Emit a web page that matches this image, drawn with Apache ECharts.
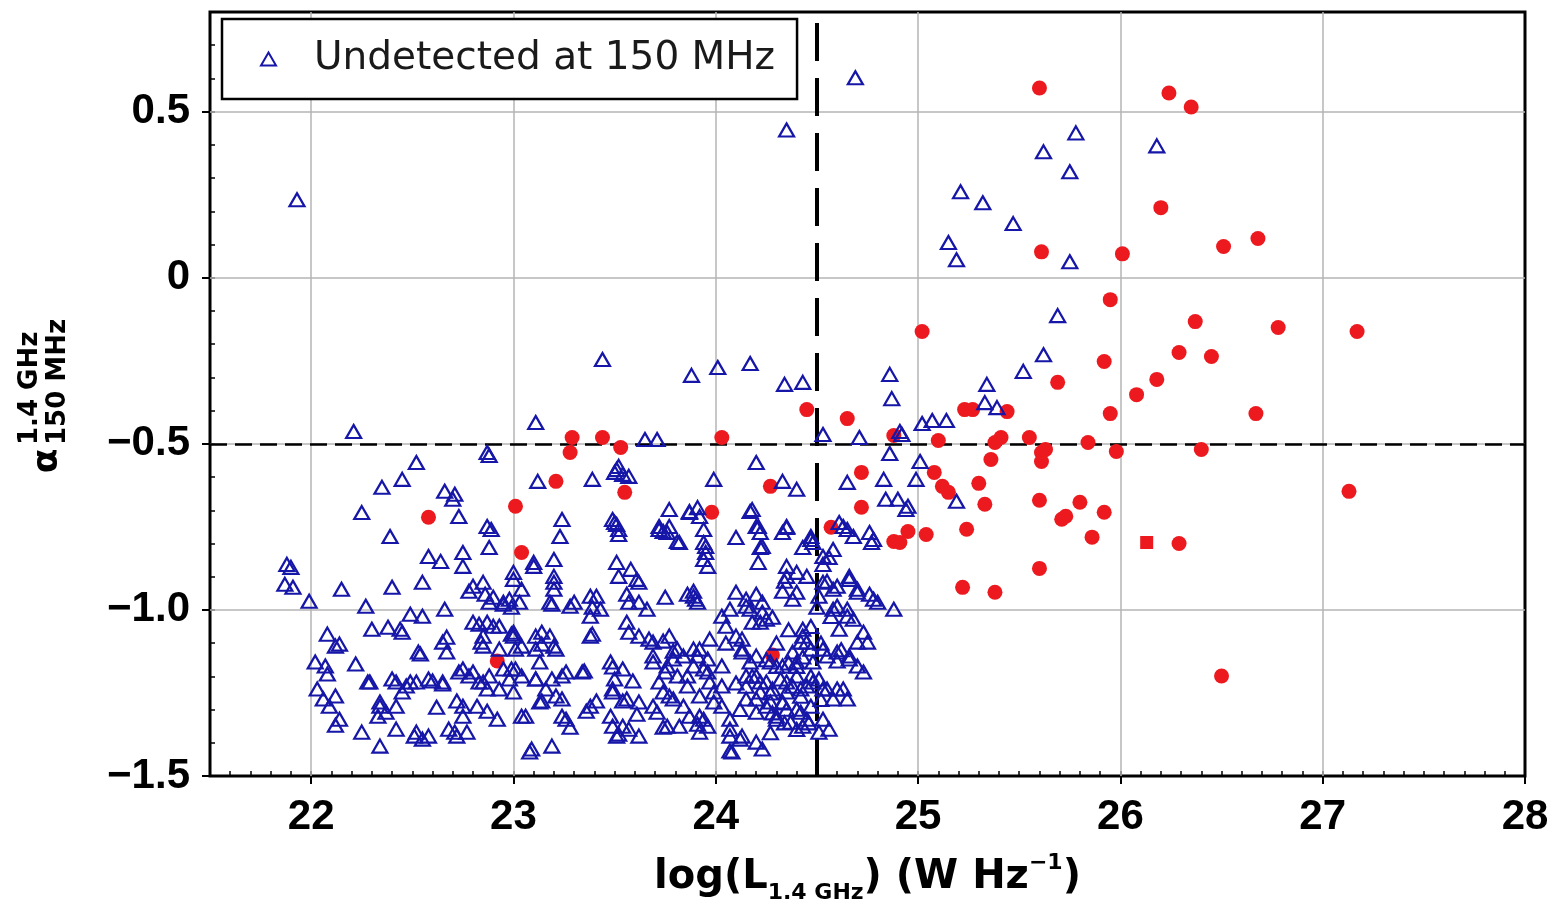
<!DOCTYPE html>
<html>
<head>
<meta charset="utf-8">
<script src="https://cdn.jsdelivr.net/npm/echarts@6/dist/echarts.min.js"></script>
<style>html,body{margin:0;padding:0;background:#fff;}#chart{width:1552px;height:909px;}</style>
</head>
<body>
<div id="chart"></div>
<script>
// ---- tick labels / reference lines ----
const xTicks = [22, 23, 24, 25, 26, 27, 28];
const yTicks = [-1.5, -1.0, -0.5, 0, 0.5];
const xGridVals = [22, 23, 24, 25, 26, 27];
const yGridVals = [-1.0, -0.5, 0, 0.5];
const lumCut = 24.5;
const alphaCut = -0.5;
const legendLabel = 'Undetected at 150 MHz';

// ---- detected (red) sources ----
const detected = [
  [25.60,0.571],[26.24,0.556],[26.35,0.514],[26.20,0.211],[26.51,0.094],[26.68,0.118],[25.61,0.078],[26.01,0.072],
  [25.95,-0.066],[25.02,-0.162],[26.37,-0.132],[26.78,-0.150],[27.17,-0.162],[26.29,-0.225],[26.45,-0.237],[26.18,-0.306],
  [25.92,-0.252],[25.69,-0.315],[26.08,-0.352],[25.95,-0.409],[26.67,-0.409],[24.45,-0.397],[24.65,-0.424],[25.23,-0.397],
  [25.27,-0.397],[25.44,-0.403],[25.10,-0.490],[25.41,-0.481],[25.38,-0.496],[25.36,-0.547],[25.55,-0.481],[25.61,-0.526],
  [25.61,-0.553],[25.63,-0.517],[25.84,-0.496],[25.98,-0.523],[26.40,-0.517],[25.08,-0.586],[25.12,-0.628],[25.15,-0.646],
  [25.30,-0.619],[25.33,-0.682],[25.60,-0.670],[25.80,-0.676],[25.92,-0.706],[25.71,-0.727],[25.73,-0.718],[24.95,-0.764],
  [24.91,-0.797],[25.04,-0.773],[25.24,-0.757],[25.86,-0.781],[26.29,-0.800],[25.60,-0.875],[25.22,-0.932],[25.38,-0.947],
  [27.13,-0.643],[26.50,-1.199],
  [22.58,-0.721],[23.01,-0.688],[23.04,-0.827],[22.92,-1.154],[23.21,-0.613],[23.29,-0.481],[23.28,-0.526],[23.44,-0.481],
  [23.53,-0.511],[23.55,-0.646],[24.03,-0.481],[23.98,-0.706],[24.27,-0.628],[24.28,-1.136],[24.72,-0.586],[24.57,-0.751],
  [24.72,-0.691],[24.88,-0.475],[24.88,-0.794]
];
const detectedSquare = [[26.13,-0.797]];

// ---- undetected at 150 MHz (blue triangles) ----
const undetected = [
  [21.93,0.235],[24.69,0.602],[24.35,0.445],[25.78,0.436],[25.62,0.379],[26.18,0.397],[25.75,0.319],[25.21,0.259],
  [25.32,0.226],[25.47,0.163],[25.15,0.106],[25.19,0.054],[25.75,0.048],[25.69,-0.114],[25.62,-0.232],[25.52,-0.282],
  [25.34,-0.321],[25.33,-0.376],[25.39,-0.391],[25.02,-0.439],[25.07,-0.430],[25.14,-0.430],[24.86,-0.291],[24.87,-0.364],
  [23.44,-0.246],[23.88,-0.294],[24.01,-0.270],[24.17,-0.258],[24.34,-0.321],[24.43,-0.315],[22.21,-0.463],[22.87,-0.526],
  [22.88,-0.535],[23.11,-0.436],[23.65,-0.487],[23.71,-0.487],[24.53,-0.472],[24.71,-0.481],[24.86,-0.529],[25.01,-0.553],
  [24.99,-0.607],[24.94,-0.698],[25.19,-0.673],[24.92,-0.472],[24.91,-0.463],
  [22.52,-0.556],[22.45,-0.607],[22.35,-0.631],[22.66,-0.643],[22.71,-0.652],[22.25,-0.707],[22.73,-0.719],[22.87,-0.749],
  [22.89,-0.758],[22.39,-0.779],[23.12,-0.613],[23.39,-0.607],[23.50,-0.586],[23.24,-0.728],[23.23,-0.779],[23.50,-0.737],
  [24.20,-0.556],[23.99,-0.607],[23.52,-0.568],[23.57,-0.598],[24.33,-0.613],[24.40,-0.637],[24.65,-0.616],[24.83,-0.607],
  [24.84,-0.667],[24.90,-0.667],[24.95,-0.688],[23.49,-0.728],[23.52,-0.758],[23.72,-0.758],[23.77,-0.749],[23.87,-0.707],
  [23.92,-0.719],[24.18,-0.698],[24.21,-0.749],[24.35,-0.749],[24.10,-0.782],[24.47,-0.779],[24.61,-0.737],[24.65,-0.758],
  [24.76,-0.767],
  [22.58,-0.839],[22.64,-0.854],[22.75,-0.827],[22.75,-0.869],[22.88,-0.812],[21.88,-0.863],[21.90,-0.872],[21.87,-0.923],
  [21.91,-0.932],[21.99,-0.974],[22.15,-0.938],[22.40,-0.932],[22.55,-0.917],[22.27,-0.989],[22.49,-1.013],[22.55,-1.019],
  [22.66,-0.998],[22.80,-0.929],[22.85,-0.917],[22.86,-0.953],[22.90,-0.962],[22.95,-0.983],[22.99,-0.992],[23.00,-0.887],
  [22.30,-1.058],[22.38,-1.052],[22.44,-1.058],[22.08,-1.073],[22.14,-1.103],[22.67,-1.082],[22.67,-1.127],[22.54,-1.133],
  [22.83,-1.043],[22.90,-1.049],[22.84,-1.097],[22.99,-1.073],[22.02,-1.157],[22.07,-1.169],[22.08,-1.193],[22.22,-1.163],
  [22.28,-1.217],[22.42,-1.217],[22.49,-1.217],[22.60,-1.214],[22.65,-1.223],[22.73,-1.187],[22.80,-1.187],[22.85,-1.217],
  [22.99,-1.178],[22.03,-1.238],[22.06,-1.268],[22.12,-1.259],[22.34,-1.290],[22.33,-1.320],[22.45,-1.247],[22.62,-1.293],
  [22.72,-1.274],[22.75,-1.290],[22.87,-1.305],[22.92,-1.329],[22.14,-1.329],[22.25,-1.368],[22.42,-1.359],[22.51,-1.380],
  [22.58,-1.380],[22.71,-1.368],[22.77,-1.368],[22.34,-1.410],
  [23.51,-0.743],[23.52,-0.773],[23.74,-0.764],[23.82,-0.797],[23.10,-0.869],[23.20,-0.848],[23.20,-0.899],[23.00,-0.908],
  [23.04,-0.938],[22.95,-0.977],[23.03,-0.977],[23.20,-0.938],[23.19,-0.983],[23.30,-0.977],[23.39,-0.992],[23.41,-0.959],
  [23.51,-0.857],[23.52,-0.899],[23.58,-0.878],[23.61,-0.908],[23.56,-0.953],[23.62,-0.977],[23.66,-0.998],[23.75,-0.962],
  [23.86,-0.953],[23.91,-0.977],[23.00,-1.067],[23.04,-1.109],[23.14,-1.067],[23.14,-1.103],[23.20,-1.109],[23.39,-1.073],
  [23.56,-1.037],[23.57,-1.067],[23.67,-1.088],[23.74,-1.094],[23.79,-1.124],[23.84,-1.139],[22.95,-1.178],[23.01,-1.178],
  [23.13,-1.157],[23.11,-1.208],[23.24,-1.199],[23.35,-1.184],[23.49,-1.172],[23.50,-1.208],[23.59,-1.214],[23.69,-1.157],
  [23.75,-1.187],[23.79,-1.148],[23.89,-1.169],[23.86,-1.199],[23.00,-1.247],[23.14,-1.274],[23.24,-1.268],[23.36,-1.305],
  [23.41,-1.274],[23.49,-1.247],[23.54,-1.274],[23.62,-1.277],[23.61,-1.314],[23.69,-1.290],[23.74,-1.247],[23.79,-1.268],
  [23.87,-1.320],[23.91,-1.344],[23.06,-1.320],[23.26,-1.329],[23.28,-1.353],[23.49,-1.350],[23.52,-1.374],[23.57,-1.359],
  [23.62,-1.380],[23.74,-1.353],[23.09,-1.419],[23.19,-1.410],
  [24.22,-0.767],[24.22,-0.812],[24.33,-0.767],[24.35,-0.752],[24.43,-0.812],[24.48,-0.797],[24.77,-0.797],[23.94,-0.797],
  [23.95,-0.827],[23.96,-0.869],[24.21,-0.857],[24.35,-0.869],[24.34,-0.914],[24.40,-0.887],[24.45,-0.899],[24.53,-0.863],
  [24.56,-0.842],[24.55,-0.914],[24.60,-0.929],[24.66,-0.899],[24.70,-0.947],[23.89,-0.944],[23.90,-0.968],[24.10,-0.947],
  [24.15,-0.968],[24.20,-0.953],[24.17,-0.998],[24.23,-1.007],[24.33,-0.944],[24.38,-0.968],[24.51,-0.959],[24.50,-0.992],
  [24.60,-0.989],[24.65,-0.998],[24.76,-0.953],[24.80,-0.977],[24.88,-0.998],[24.03,-1.019],[24.05,-1.049],[24.10,-1.079],
  [24.13,-1.088],[24.22,-1.037],[24.25,-1.028],[24.43,-1.079],[24.45,-1.097],[24.61,-1.058],[24.68,-1.028],[24.73,-1.067],
  [24.75,-1.097],[23.89,-1.118],[23.96,-1.148],[23.96,-1.187],[24.03,-1.169],[24.13,-1.127],[24.17,-1.157],[24.38,-1.127],
  [24.43,-1.142],[24.48,-1.157],[24.55,-1.139],[24.60,-1.154],[24.66,-1.148],[24.70,-1.169],[24.73,-1.187],[23.86,-1.229],
  [23.92,-1.259],[23.99,-1.247],[24.03,-1.229],[24.20,-1.199],[24.25,-1.217],[24.22,-1.247],[24.32,-1.208],[24.35,-1.247],
  [24.40,-1.199],[24.45,-1.229],[24.51,-1.208],[24.55,-1.238],[24.58,-1.268],[24.63,-1.238],[23.94,-1.329],[24.03,-1.290],
  [24.07,-1.329],[24.15,-1.268],[24.20,-1.308],[24.25,-1.290],[24.30,-1.329],[24.35,-1.299],[24.42,-1.308],[24.45,-1.329],
  [24.53,-1.329],[24.56,-1.359],[24.07,-1.380],[24.12,-1.389],[24.20,-1.398],[24.23,-1.419],[24.08,-1.428],[23.92,-1.368],
  [24.18,-1.20],[24.27,-1.25],[24.30,-1.17],[24.33,-1.28],[24.38,-1.23],[24.42,-1.26],[24.28,-1.31],[24.40,-1.17],
  [24.47,-1.20],[24.36,-1.16],[24.25,-1.15],[24.15,-1.23],[24.12,-1.30],[24.10,-1.22],[24.05,-1.10],[24.30,-1.10],
  [24.36,-1.06],[24.47,-1.05],[24.52,-1.10],[24.57,-1.02],[24.62,-1.12],[24.52,-1.27],[24.46,-1.34],[24.40,-1.36],
  [24.34,-1.34],[24.27,-1.37],
  [23.51,-0.577],[23.54,-0.592],[23.77,-0.698],[23.87,-0.704],[23.91,-0.692],[23.72,-0.749],[23.76,-0.767],[23.81,-0.794],
  [23.94,-0.758],[23.95,-0.809],[23.94,-0.848],[24.17,-0.704],[24.20,-0.749],[24.23,-0.809],[24.47,-0.788],[24.53,-0.839],
  [24.58,-0.818],[24.63,-0.749],[24.68,-0.779],[24.78,-0.788],[23.62,-0.917],[23.43,-0.998],[23.57,-0.977],[23.89,-0.959],
  [24.07,-0.998],[24.15,-0.989],[24.23,-0.977],[24.28,-1.022],[24.18,-1.037],[24.35,-0.899],[24.40,-0.947],[24.53,-0.917],
  [24.58,-0.938],[24.66,-0.908],[24.70,-0.938],[24.78,-0.968],[24.58,-0.998],[24.65,-1.019],[24.43,-1.058],[24.42,-1.097],
  [24.47,-1.118],[24.53,-1.118],[24.60,-1.127],[24.66,-1.139],[24.70,-1.097],[24.13,-1.118],[24.20,-1.139],[24.27,-1.157],
  [24.33,-1.169],[24.40,-1.157],[24.15,-1.199],[24.22,-1.217],[24.28,-1.238],[24.35,-1.217],[24.42,-1.238],[24.48,-1.217],
  [24.53,-1.238],[24.20,-1.268],[24.27,-1.277],[24.33,-1.277],[24.40,-1.299],[24.47,-1.290],[24.30,-1.320],[24.37,-1.338],
  [24.43,-1.350],[24.51,-1.368],[24.60,-1.238],[24.65,-1.268],[24.07,-1.359],[24.13,-1.380],[24.07,-1.425],[23.91,-1.139],
  [23.94,-1.178],[23.97,-1.217],[23.99,-1.277],[23.92,-1.320],[23.96,-1.350],[23.69,-1.139],[23.76,-1.169],[23.81,-1.199],
  [23.72,-1.217],[23.77,-1.259],[23.84,-1.290],[23.71,-1.308],[23.76,-1.350],[23.82,-1.350],[23.48,-1.157],[23.54,-1.178],
  [23.49,-1.238],[23.56,-1.268],[23.48,-1.320],[23.54,-1.350],[23.51,-1.380],[23.62,-1.079],[23.69,-1.097],[23.77,-1.079],
  [23.81,-1.118],[23.92,-1.118],[23.97,-1.088],
  [22.70,-0.667],[22.98,-0.968],[22.78,-0.944],[22.88,-0.977],[23.10,-0.857],[23.20,-0.917],[23.18,-0.977],[23.28,-0.989],
  [23.38,-0.959],[23.38,-1.019],[23.38,-1.079],[22.45,-1.067],[22.12,-1.109],[22.53,-1.127],[22.65,-1.097],[22.80,-1.037],
  [22.87,-1.037],[22.93,-1.049],[22.85,-1.079],[22.85,-1.109],[22.93,-1.118],[23.00,-1.079],[23.01,-1.118],[23.11,-1.079],
  [23.18,-1.079],[23.21,-1.118],[23.11,-1.118],[22.09,-1.290],[22.29,-1.217],[22.40,-1.208],[22.47,-1.229],[22.52,-1.217],
  [22.58,-1.208],[22.65,-1.217],[22.75,-1.178],[22.78,-1.199],[22.83,-1.217],[22.88,-1.199],[22.93,-1.238],[22.87,-1.238],
  [22.98,-1.208],[23.04,-1.199],[23.11,-1.208],[23.16,-1.238],[23.19,-1.208],[23.26,-1.187],[23.34,-1.187],[23.38,-1.290],
  [22.34,-1.277],[22.37,-1.308],[22.42,-1.290],[22.75,-1.320],[22.82,-1.290],[23.04,-1.320],[23.13,-1.277],[23.21,-1.259],
  [23.24,-1.320],[22.12,-1.347],[22.52,-1.368],[22.55,-1.389],[22.68,-1.359],[22.72,-1.380],[23.08,-1.428]
];

const chart = echarts.init(document.getElementById('chart'), null, {renderer: 'canvas'});

const tickFont = 'Liberation Sans, Arial, sans-serif';
const textFont = 'DejaVu Sans, sans-serif';
const minus = s => s.replace('-', '\u2212');

const option = {
  animation: false,
  backgroundColor: '#ffffff',
  grid: {left: 210, right: 27, top: 12, bottom: 131, show: true, borderColor: '#000', borderWidth: 3, backgroundColor: 'rgba(0,0,0,0)'},
  legend: {
    data: [legendLabel],
    left: 222, top: 19,
    orient: 'horizontal',
    selectedMode: false,
    backgroundColor: '#fff',
    borderColor: '#000', borderWidth: 2.5, borderRadius: 0,
    padding: [20, 22, 20, 38],
    itemWidth: 15, itemHeight: 13,
    textStyle: {fontFamily: textFont, fontSize: 39, color: '#1a1a1a', lineHeight: 40, padding: [0, 0, 0, 33]},
    z: 10
  },
  xAxis: [
    {
      type: 'value', min: 21.5, max: 28, interval: 0.1,
      axisLine: {show: false, onZero: false},
      axisTick: {show: true, inside: true, length: 5, lineStyle: {color: '#000', width: 1.5}},
      splitLine: {show: false},
      axisLabel: {customValues: xTicks, margin: 20, fontSize: 42, fontWeight: 'bold', fontFamily: tickFont, color: '#000',
        formatter: v => String(Math.round(v))},
      name: '{a|log(L}{b|1.4 GHz}{a|) (W Hz}{c|\u22121}{a|)}',
      nameLocation: 'middle', nameGap: 76,
      nameTextStyle: {
        rich: {
          a: {fontFamily: textFont, fontWeight: 'bold', fontSize: 40, color: '#000', lineHeight: 52},
          b: {fontFamily: textFont, fontWeight: 'bold', fontSize: 22, color: '#000', lineHeight: 52, verticalAlign: 'bottom'},
          c: {fontFamily: textFont, fontWeight: 'bold', fontSize: 22, color: '#000', lineHeight: 52, verticalAlign: 'top'}
        }
      }
    },
    {
      type: 'value', min: 21.5, max: 28, position: 'bottom',
      axisLine: {show: false, onZero: false},
      axisTick: {show: true, customValues: xTicks, inside: false, length: 8, lineStyle: {color: '#000', width: 2}},
      axisLabel: {show: false},
      splitLine: {show: false}
    }
  ],
  yAxis: [
    {
      type: 'value', min: -1.5, max: 0.8, interval: 0.1,
      axisLine: {show: false, onZero: false},
      axisTick: {show: true, inside: true, length: 5, lineStyle: {color: '#000', width: 1.5}},
      splitLine: {show: false},
      axisLabel: {customValues: yTicks, margin: 20, fontSize: 42, fontWeight: 'bold', fontFamily: tickFont, color: '#000',
        formatter: v => Math.abs(v) < 1e-9 ? '0' : minus(v.toFixed(1))}
    },
    {
      type: 'value', min: -1.5, max: 0.8, position: 'left',
      axisLine: {show: false, onZero: false},
      axisTick: {show: true, customValues: yTicks, inside: false, length: 8, lineStyle: {color: '#000', width: 2}},
      axisLabel: {show: false},
      splitLine: {show: false}
    }
  ],
  graphic: [
    {
      type: 'group', x: 48, y: 461, rotation: Math.PI / 2,
      children: [
        {type: 'text', x: 0, y: 0, style: {text: '\u03b1', fontFamily: textFont, fontWeight: 'bold', fontSize: 36, fill: '#000', align: 'center', verticalAlign: 'middle'}},
        {type: 'text', x: 16, y: -18, style: {text: '1.4 GHz', fontFamily: textFont, fontWeight: 'bold', fontSize: 26, fill: '#000', align: 'left', verticalAlign: 'middle'}},
        {type: 'text', x: 16, y: 10, style: {text: '150 MHz', fontFamily: textFont, fontWeight: 'bold', fontSize: 26, fill: '#000', align: 'left', verticalAlign: 'middle'}}
      ]
    }
  ],
  series: [
    {
      name: 'grid', type: 'scatter', data: [], silent: true,
      markLine: {
        silent: true, symbol: 'none', z: 1, animation: false,
        label: {show: false},
        lineStyle: {color: '#b5b5b5', width: 1.5, type: 'solid'},
        data: xGridVals.map(v => ({xAxis: v})).concat(yGridVals.map(v => ({yAxis: v})))
      }
    },
    {
      name: 'cuts', type: 'scatter', data: [], silent: true,
      markLine: {
        silent: true, symbol: 'none', z: 2, animation: false,
        label: {show: false},
        data: [
          {xAxis: lumCut, lineStyle: {color: '#000', width: 4, type: [38, 17]}},
          {yAxis: alphaCut, lineStyle: {color: '#000', width: 2.5, type: [17, 8]}}
        ]
      }
    },
    {
      name: 'Detected', type: 'scatter', data: detected, symbol: 'circle', symbolSize: 15, z: 3,
      itemStyle: {color: '#ec1a1f', opacity: 1}
    },
    {
      name: 'DetectedSq', type: 'scatter', data: detectedSquare, symbol: 'rect', symbolSize: 13, z: 3,
      itemStyle: {color: '#ec1a1f', opacity: 1}
    },
    {
      name: legendLabel, type: 'scatter', data: undetected, symbol: 'triangle', symbolSize: [15, 13], z: 4,
      itemStyle: {color: 'rgba(255,255,255,0)', borderColor: '#1616a8', borderWidth: 2.2, opacity: 1}
    }
  ]
};
chart.setOption(option);
</script>
</body>
</html>
